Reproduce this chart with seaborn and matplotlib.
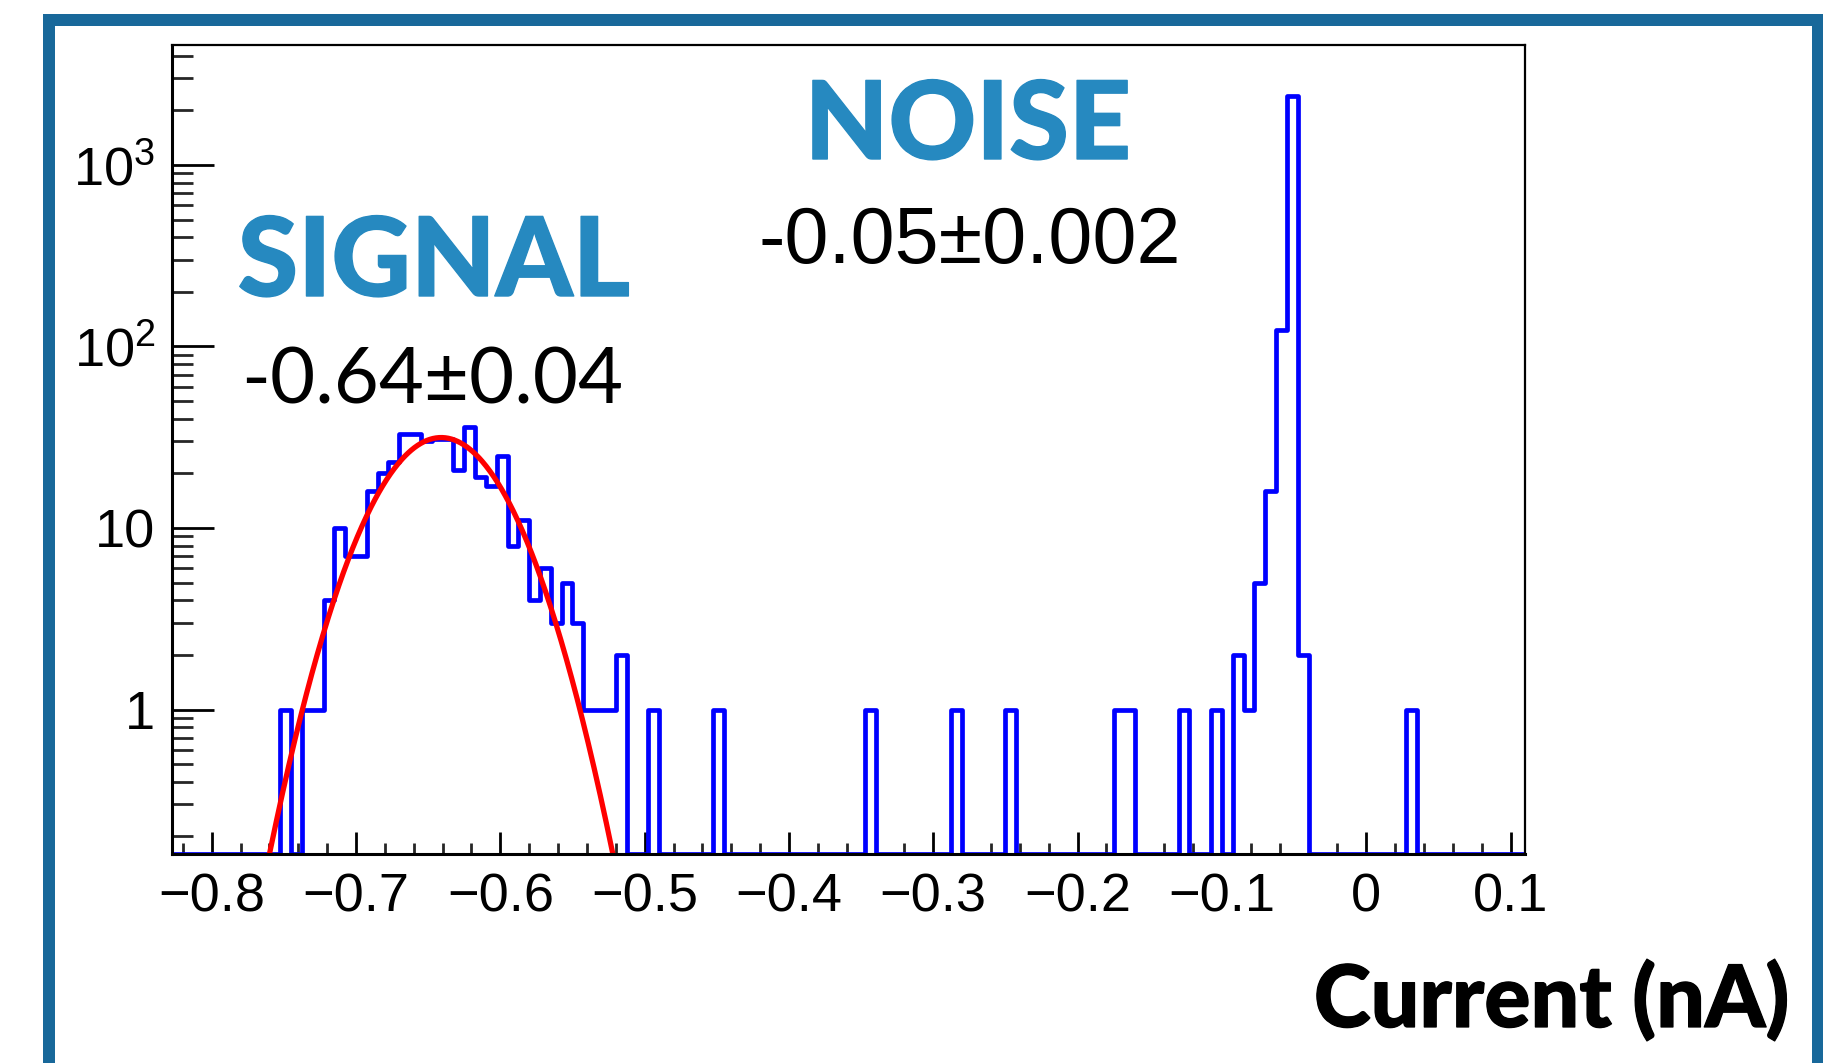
import numpy as np
import pandas as pd
import matplotlib
matplotlib.use("Agg")
import matplotlib.pyplot as plt
import matplotlib.patheffects as pe
import seaborn as sns
from matplotlib.ticker import MultipleLocator, LogLocator, FixedLocator, FuncFormatter, NullFormatter
from matplotlib.patches import Rectangle

# ---------------- data ----------------
bin_start = -0.8275
bin_width = 0.0075
counts = [
    0, 0, 0, 0, 0, 0, 0, 0, 0, 0,
    1, 0, 1, 1, 4, 10, 7, 7, 16, 20,
    23, 33, 33, 30, 31, 31, 21, 36, 19, 17,
    25, 8, 11, 4, 6, 3, 5, 3, 1, 1,
    1, 2, 0, 0, 1, 0, 0, 0, 0, 0,
    1, 0, 0, 0, 0, 0, 0, 0, 0, 0,
    0, 0, 0, 0, 1, 0, 0, 0, 0, 0,
    0, 0, 1, 0, 0, 0, 0, 1, 0, 0,
    0, 0, 0, 0, 0, 0, 0, 1, 1, 0,
    0, 0, 0, 1, 0, 0, 1, 0, 2, 1,
    5, 16, 123, 2400, 2, 0, 0, 0, 0, 0,
    0, 0, 0, 0, 1, 0, 0, 0, 0, 0,
    0, 0, 0, 0, 0,
]
fit_amp = 31.5
fit_mean = -0.641
fit_sigma = 0.0366
fit_range = (-0.80, -0.48)

x_ticks = [-0.8, -0.7, -0.6, -0.5, -0.4, -0.3, -0.2, -0.1, 0.0, 0.1]
y_ticks = [1, 10, 100, 1000]
y_tick_labels = ["1", "10", r"$10^{2}$", r"$10^{3}$"]
y_min, y_max = 0.16, 4580

signal_title = "SIGNAL"
signal_value = "-0.64±0.04"
noise_title = "NOISE"
noise_value = "-0.05±0.002"
x_label = "Current (nA)"

# ---------------- style ----------------
W, H = 1824, 1063
sns.set_theme(style="white")
plt.rcParams["font.family"] = ["Liberation Sans", "DejaVu Sans"]
plt.rcParams["mathtext.fontset"] = "custom"
plt.rcParams["mathtext.rm"] = "Liberation Sans"
plt.rcParams["mathtext.default"] = "regular"

fig = plt.figure(figsize=(W / 100, H / 100), dpi=100)
fig.patch.set_facecolor("white")
ax = fig.add_axes([172 / W, 1 - 854 / H, (1525 - 172) / W, (854 - 45) / H])

counts_arr = np.array(counts, dtype=float)
n_bins = len(counts_arr)
edges = bin_start + bin_width * np.arange(n_bins + 1)
centers = edges[:-1] + bin_width / 2
shown = np.where(counts_arr > 0, counts_arr, y_min)  # ROOT draws empty bins at the frame minimum
hist_df = pd.DataFrame({"current": centers, "count": shown})

sns.histplot(data=hist_df, x="current", weights="count", bins=n_bins,
             binrange=(float(edges[0]), float(edges[-1])),
             element="step", fill=False, color="#0000ff", linewidth=3.4, ax=ax)

xf = np.linspace(fit_range[0], fit_range[1], 600)
yf = fit_amp * np.exp(-0.5 * ((xf - fit_mean) / fit_sigma) ** 2)
fit_df = pd.DataFrame({"current": xf, "fit": yf})
sns.lineplot(data=fit_df, x="current", y="fit", color="#ff0000", linewidth=3.8, ax=ax)

ax.set_yscale("log")
ax.set_xlim(edges[0], edges[-1])
ax.set_ylim(y_min, y_max)
ax.set_xlabel("")
ax.set_ylabel("")

ax.xaxis.set_major_locator(FixedLocator(x_ticks))
ax.xaxis.set_minor_locator(MultipleLocator(0.02))
ax.xaxis.set_major_formatter(FuncFormatter(
    lambda v, p: ("0" if abs(v) < 1e-9 else f"{v:.1f}").replace("-", "\u2212")))
ax.yaxis.set_major_locator(FixedLocator(y_ticks))
ax.yaxis.set_major_formatter(FuncFormatter(lambda v, p: y_tick_labels[y_ticks.index(int(round(v)))]
                                           if int(round(v)) in y_ticks else ""))
ax.yaxis.set_minor_locator(LogLocator(base=10, subs=np.arange(2, 10) * 1.0, numticks=30))
ax.yaxis.set_minor_formatter(NullFormatter())

ax.tick_params(axis="x", which="major", direction="in", length=15.8, width=2.0,
               bottom=True, top=False, labelsize=39, pad=13, colors="black")
ax.tick_params(axis="x", which="minor", direction="in", length=7.9, width=2.0,
               bottom=True, top=False)
ax.tick_params(axis="y", which="major", direction="in", length=30, width=2.0,
               left=True, right=False, labelsize=39, pad=12, colors="black")
ax.tick_params(axis="y", which="minor", direction="in", length=15, width=2.0,
               left=True, right=False)
for side, sp in ax.spines.items():
    sp.set_color("black")
    sp.set_linewidth(2.2 if side in ("left", "bottom") else 1.6)
    sp.set_visible(True)
ax.grid(False)
ax.set_facecolor("white")

# ---------------- annotations ----------------
blue_txt = "#2689c0"
heavy_blue = [pe.withStroke(linewidth=1.0, foreground=blue_txt)]
heavy_black = [pe.withStroke(linewidth=0.9, foreground="black")]
fig.text(434 / W, 1 - 296 / H, signal_title, ha="center", va="baseline",
         fontsize=79, color=blue_txt, family="Lato", fontweight="black",
         path_effects=heavy_blue)
fig.text(432 / W, 1 - 404 / H, signal_value, ha="center", va="baseline",
         fontsize=56, color="black", family="Lato")
fig.text(968 / W, 1 - 159 / H, noise_title, ha="center", va="baseline",
         fontsize=78, color=blue_txt, family="Lato", fontweight="black",
         path_effects=heavy_blue)
fig.text(970 / W, 1 - 263 / H, noise_value, ha="center", va="baseline",
         fontsize=57, color="black", family="Liberation Sans")
fig.text(1789 / W, 1 - 1027 / H, x_label, ha="right", va="baseline",
         fontsize=62, color="black", family="Lato", fontweight="black",
         path_effects=heavy_black)

# frame border
fig.patches.append(Rectangle((49 / W, -3 / H), (1818 - 49) / W, (1066 - 20) / H,
                             transform=fig.transFigure, fill=False,
                             edgecolor="#18689a", linewidth=8.64, joinstyle="miter",
                             figure=fig))

fig.savefig("out.png", dpi=100)
